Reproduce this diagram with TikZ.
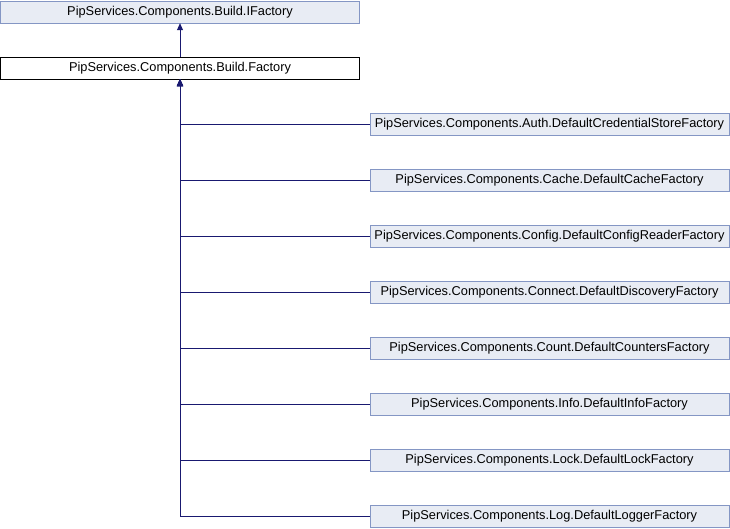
\documentclass[tikz,border=0pt]{standalone}
\usepackage{fontspec}
\setmainfont{Liberation Sans}
\usetikzlibrary{arrows.meta}
\definecolor{boxfill}{HTML}{E8ECF4}
\definecolor{boxline}{HTML}{8496C4}
\definecolor{edgeblue}{HTML}{191970}
\tikzset{
    cls/.style={draw=boxline, fill=boxfill, minimum width=359pt, minimum height=22pt, inner sep=0pt, font=\fontsize{12.8}{14}\selectfont},
    cur/.style={cls, draw=black, fill=white},
    edge/.style={edgeblue, line width=0.9pt},
    inh/.style={edge, -{Triangle[length=7pt,width=6pt]}}
}
\begin{document}
\begin{tikzpicture}[x=1pt, y=-1pt]
    \useasboundingbox (0,0) rectangle (730,528);
    \node[cls] (ifactory) at (180,12) {PipServices.Components.Build.IFactory};
    \node[cur] (factory) at (180,68) {PipServices.Components.Build.Factory};
    %
    \node[cls] (auth) at (549.5,124) {PipServices.Components.Auth.DefaultCredentialStoreFactory};
    \node[cls] (cache) at (549.5,180) {PipServices.Components.Cache.DefaultCacheFactory};
    \node[cls] (config) at (549.5,236) {PipServices.Components.Config.DefaultConfigReaderFactory};
    \node[cls] (connect) at (549.5,292) {PipServices.Components.Connect.DefaultDiscoveryFactory};
    \node[cls] (count) at (549.5,348) {PipServices.Components.Count.DefaultCountersFactory};
    \node[cls] (info) at (549.5,404) {PipServices.Components.Info.DefaultInfoFactory};
    \node[cls] (lock) at (549.5,460) {PipServices.Components.Lock.DefaultLockFactory};
    \node[cls] (log) at (549.5,516) {PipServices.Components.Log.DefaultLoggerFactory};
    %
    \draw[inh] (factory) -- (ifactory);
    %
    \draw[inh] (auth.west) -| (factory.south);
    \draw[inh] (cache.west) -| (factory.south);
    \draw[inh] (config.west) -| (factory.south);
    \draw[inh] (connect.west) -| (factory.south);
    \draw[inh] (count.west) -| (factory.south);
    \draw[inh] (info.west) -| (factory.south);
    \draw[inh] (lock.west) -| (factory.south);
    \draw[inh] (log.west) -| (factory.south);
\end{tikzpicture}
\end{document}
